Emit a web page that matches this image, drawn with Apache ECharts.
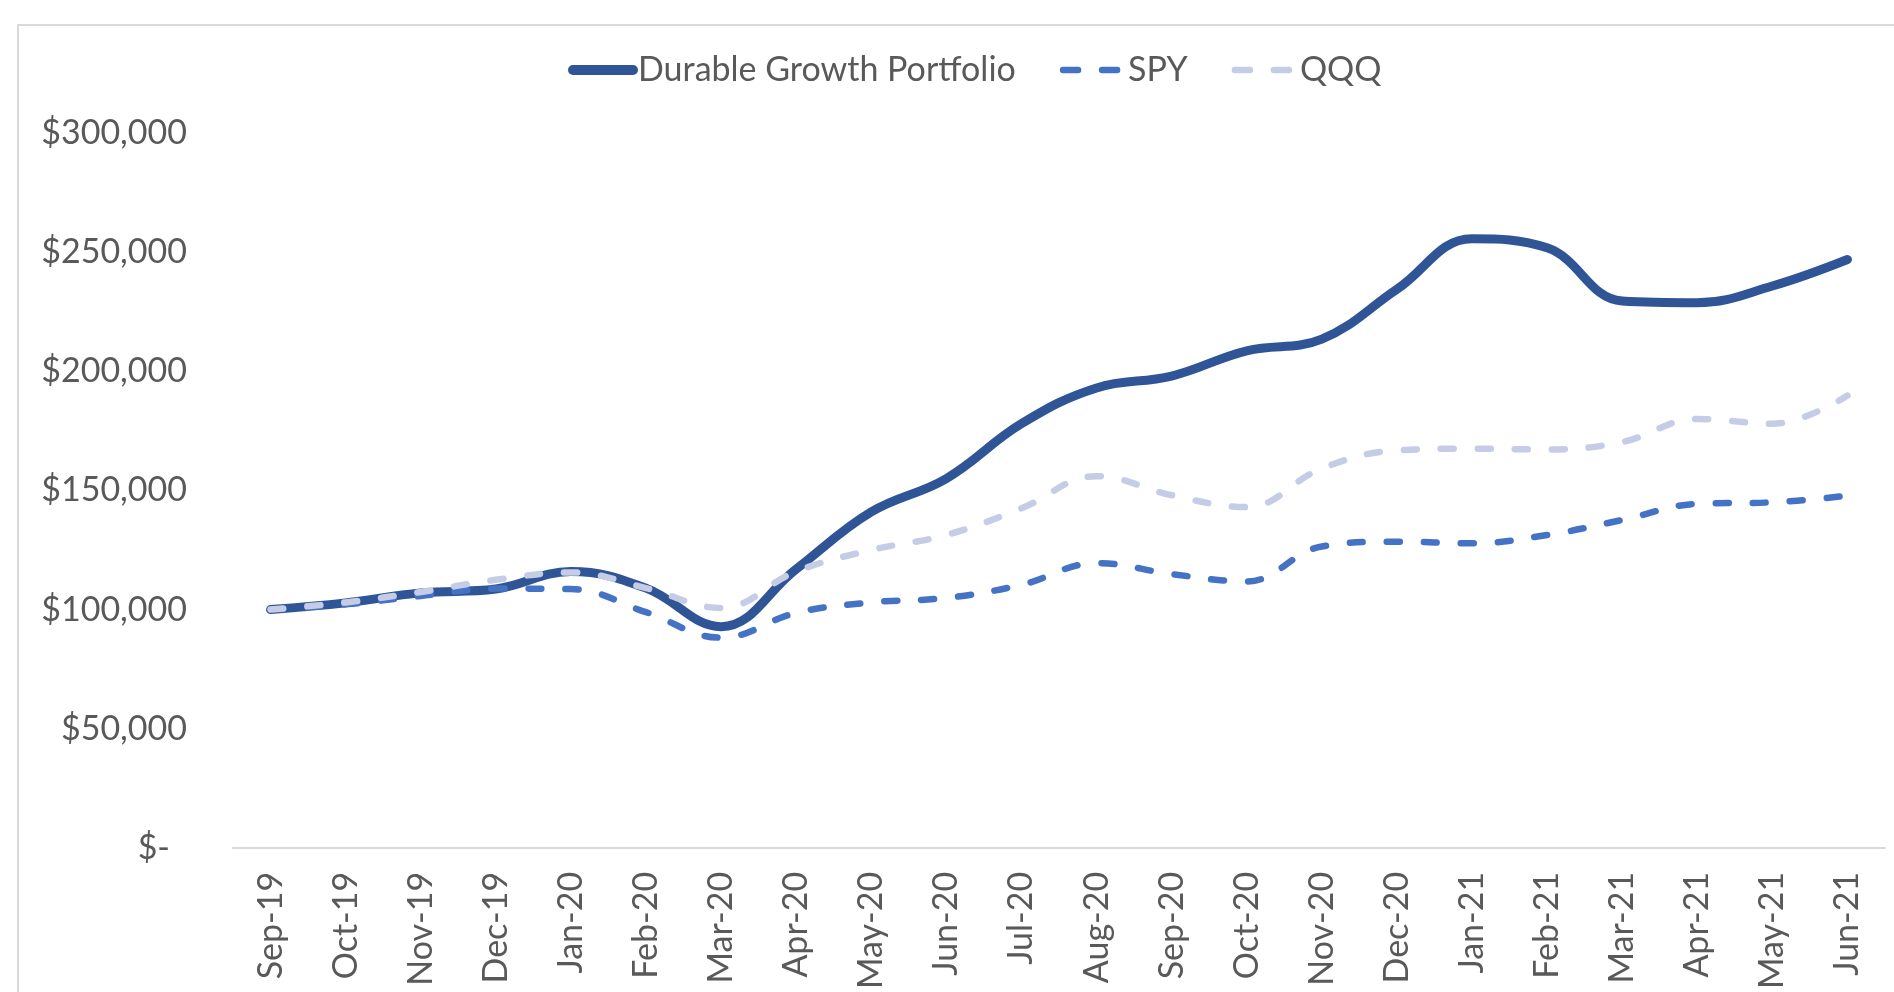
<!DOCTYPE html>
<html>
<head>
<meta charset="utf-8">
<script src="https://cdn.jsdelivr.net/npm/echarts@6/dist/echarts.min.js"></script>
<style>
html,body{margin:0;padding:0;background:#fff;}
#chart{width:1894px;height:992px;}
</style>
</head>
<body>
<div id="chart"></div>
<script>
const categories = ['Sep-19','Oct-19','Nov-19','Dec-19','Jan-20','Feb-20','Mar-20','Apr-20','May-20','Jun-20','Jul-20','Aug-20','Sep-20','Oct-20','Nov-20','Dec-20','Jan-21','Feb-21','Mar-21','Apr-21','May-21','Jun-21'];
const durable = [100000,102800,107000,108600,116000,109000,92800,117000,141000,155000,178000,193000,198000,208600,213500,234400,255600,251800,229500,228800,235800,246900];
const spy = [100000,102200,105700,108800,108600,98900,88200,98600,103000,104900,110400,119500,114900,111800,126500,128500,127800,131300,137600,144400,145000,147800];
const qqq = [100000,103000,107400,112500,115600,109000,100700,116000,125000,131300,142500,156000,148000,143000,159200,166800,167500,167200,170300,180000,178000,189800];
const seriesNames = ['Durable Growth Portfolio','SPY','QQQ'];

const FONT = 'Lato';
const TXT = '#595959';
const C_DUR = '#2F5597', C_SPY = '#4472C4', C_QQQ = '#C5CDE6';

const chart = echarts.init(document.getElementById('chart'));
chart.setOption({
  animation: false,
  backgroundColor: '#fff',
  graphic: [{
    type: 'rect',
    shape: {x: 18, y: 25, width: 2000, height: 1100},
    style: {fill: 'none', stroke: '#D9D9D9', lineWidth: 2},
    silent: true, z: -10
  }],
  legend: {
    left: 563,
    top: 48,
    itemWidth: 60,
    itemHeight: 14,
    itemGap: 44,
    itemStyle: {opacity: 0},
    textStyle: {fontFamily: FONT, fontSize: 34, color: TXT},
    data: [
      {name: seriesNames[0], lineStyle: {width: 10, color: C_DUR, type: 'solid', cap: 'round'}},
      {name: seriesNames[1], lineStyle: {width: 6.5, color: C_SPY, type: [15, 24], cap: 'round'}},
      {name: seriesNames[2], lineStyle: {width: 6.5, color: C_QQQ, type: [15, 24], cap: 'round'}}
    ]
  },
  grid: {left: 233, right: 9, top: 133, bottom: 141, containLabel: false},
  xAxis: {
    type: 'category',
    data: categories,
    boundaryGap: true,
    axisLine: {show: true, lineStyle: {color: '#D9D9D9', width: 2}},
    axisTick: {show: false},
    axisLabel: {rotate: 90, margin: 24, fontFamily: FONT, fontSize: 34, color: TXT, interval: 0}
  },
  yAxis: {
    type: 'value',
    min: 0, max: 300000, interval: 50000,
    axisLine: {show: false},
    axisTick: {show: false},
    splitLine: {show: false},
    axisLabel: {
      margin: 46, fontFamily: FONT, fontSize: 34, color: TXT,
      formatter: function (v) {
        if (v === 0) return '{z|$-}';
        return '$' + v.toLocaleString('en-US');
      },
      rich: {z: {fontFamily: FONT, fontSize: 34, color: TXT, padding: [0, 17, 0, 0]}}
    }
  },
  series: [
    {
      name: seriesNames[0], type: 'line', data: durable, smooth: 0.4,
      symbol: 'none', showSymbol: false,
      lineStyle: {color: C_DUR, width: 9, cap: 'round', join: 'round'},
      itemStyle: {color: C_DUR}, z: 2
    },
    {
      name: seriesNames[1], type: 'line', data: spy, smooth: 0.4,
      symbol: 'none', showSymbol: false,
      lineStyle: {color: C_SPY, width: 6.5, type: [13, 24], cap: 'round', join: 'round'},
      itemStyle: {color: C_SPY}, z: 3
    },
    {
      name: seriesNames[2], type: 'line', data: qqq, smooth: 0.4,
      symbol: 'none', showSymbol: false,
      lineStyle: {color: C_QQQ, width: 6.5, type: [13, 24], cap: 'round', join: 'round'},
      itemStyle: {color: C_QQQ}, z: 4
    }
  ]
});
</script>
</body>
</html>
